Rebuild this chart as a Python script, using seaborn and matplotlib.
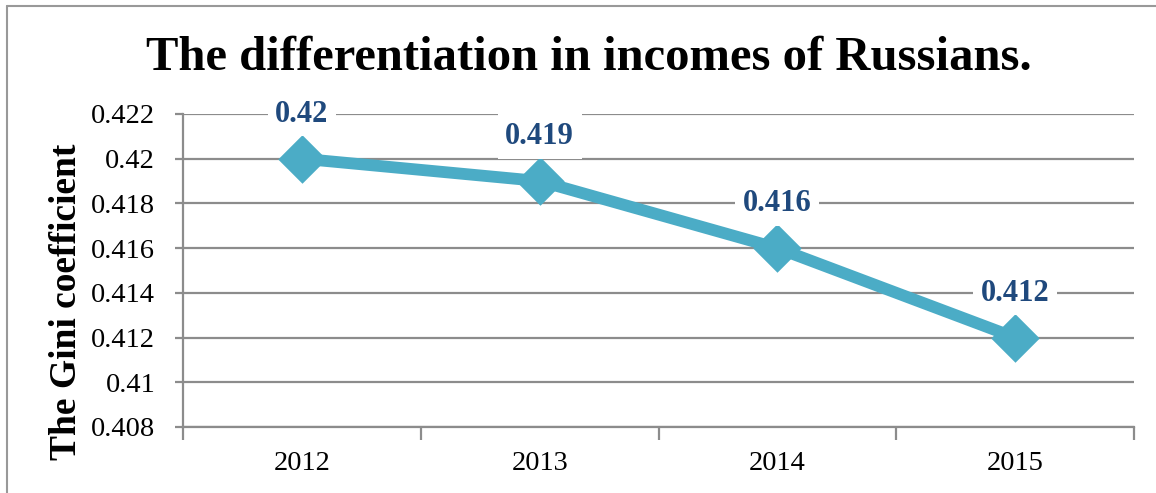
import matplotlib
matplotlib.use("Agg")
import matplotlib.pyplot as plt
from matplotlib.lines import Line2D
from matplotlib.ticker import FixedLocator
import seaborn as sns
import pandas as pd

years = ["2012", "2013", "2014", "2015"]
gini = [0.420, 0.419, 0.416, 0.412]
value_labels = ["0.42", "0.419", "0.416", "0.412"]
y_ticks = [0.408, 0.410, 0.412, 0.414, 0.416, 0.418, 0.420, 0.422]
y_tick_labels = ["0.408", "0.41", "0.412", "0.414", "0.416", "0.418", "0.42", "0.422"]
title = "The differentiation in incomes of Russians."
ylabel = "The Gini coefficient"

sns.set_theme(style="white")
plt.rcParams["font.family"] = ["Liberation Serif", "DejaVu Serif"]

df = pd.DataFrame({"year": years, "gini": gini})

fig = plt.figure(figsize=(11.56, 4.93), dpi=100)
ax = fig.add_axes([0.1583, 0.1339, 0.8227, 0.6349])

grid_c = "#8c8c8c"
ax.set_ylim(0.408, 0.422)
ax.yaxis.set_major_locator(FixedLocator(y_ticks))
ax.set_yticklabels(y_tick_labels)
for yv in y_ticks:
    ax.axhline(yv, color=grid_c, lw=1.6, zorder=1)

sns.pointplot(data=df, x="year", y="gini", ax=ax, color="#4BACC6",
              markers="D", markersize=18, linewidth=8.5, zorder=3)
ln = ax.lines[0]
ln.set_markerfacecolor("#4EC3E6")
ln.set_markeredgecolor("#3B9DBB")
ln.set_markeredgewidth(1.2)
ln.set_solid_joinstyle("round")
ln.set_solid_capstyle("round")

ax.set_xlim(-0.5, 3.5)
ax.set_xlabel("")
ax.set_ylabel(ylabel, fontsize=27, fontweight="bold", color="black")
ax.yaxis.set_label_coords(-0.104, 0.40)

for i, (v, lab) in enumerate(zip(gini, value_labels)):
    ax.annotate(lab, (i, v), xytext=(0, 32), textcoords="offset points",
                ha="center", va="center", fontsize=22, fontweight="bold",
                color="#1F497D", zorder=5,
                bbox=dict(boxstyle="square,pad=0.25", fc="white", ec="none"))

for s in ["top", "right"]:
    ax.spines[s].set_visible(False)
for s in ["left", "bottom"]:
    ax.spines[s].set_color(grid_c)
    ax.spines[s].set_linewidth(1.6)

ax.tick_params(axis="y", which="major", length=6, width=1.6, color=grid_c,
               labelsize=20.5, pad=14, labelcolor="black", left=True)
ax.xaxis.set_minor_locator(FixedLocator([-0.5, 0.5, 1.5, 2.5, 3.5]))
ax.tick_params(axis="x", which="major", length=0, labelsize=20.5, pad=17,
               labelcolor="black")
ax.tick_params(axis="x", which="minor", length=9, width=1.6, color=grid_c,
               bottom=True, direction="out")

fig.text(0.509, 1 - 58 / 493, title, ha="center", va="center",
         fontsize=35, fontweight="bold", color="black")

fig.add_artist(Line2D([7 / 1156, 7 / 1156], [0, 1 - 6 / 493],
                      transform=fig.transFigure, color="#999999", lw=1.5))
fig.add_artist(Line2D([7 / 1156, 1], [1 - 6 / 493, 1 - 6 / 493],
                      transform=fig.transFigure, color="#999999", lw=1.5))

fig.savefig("out.png", dpi=100)
